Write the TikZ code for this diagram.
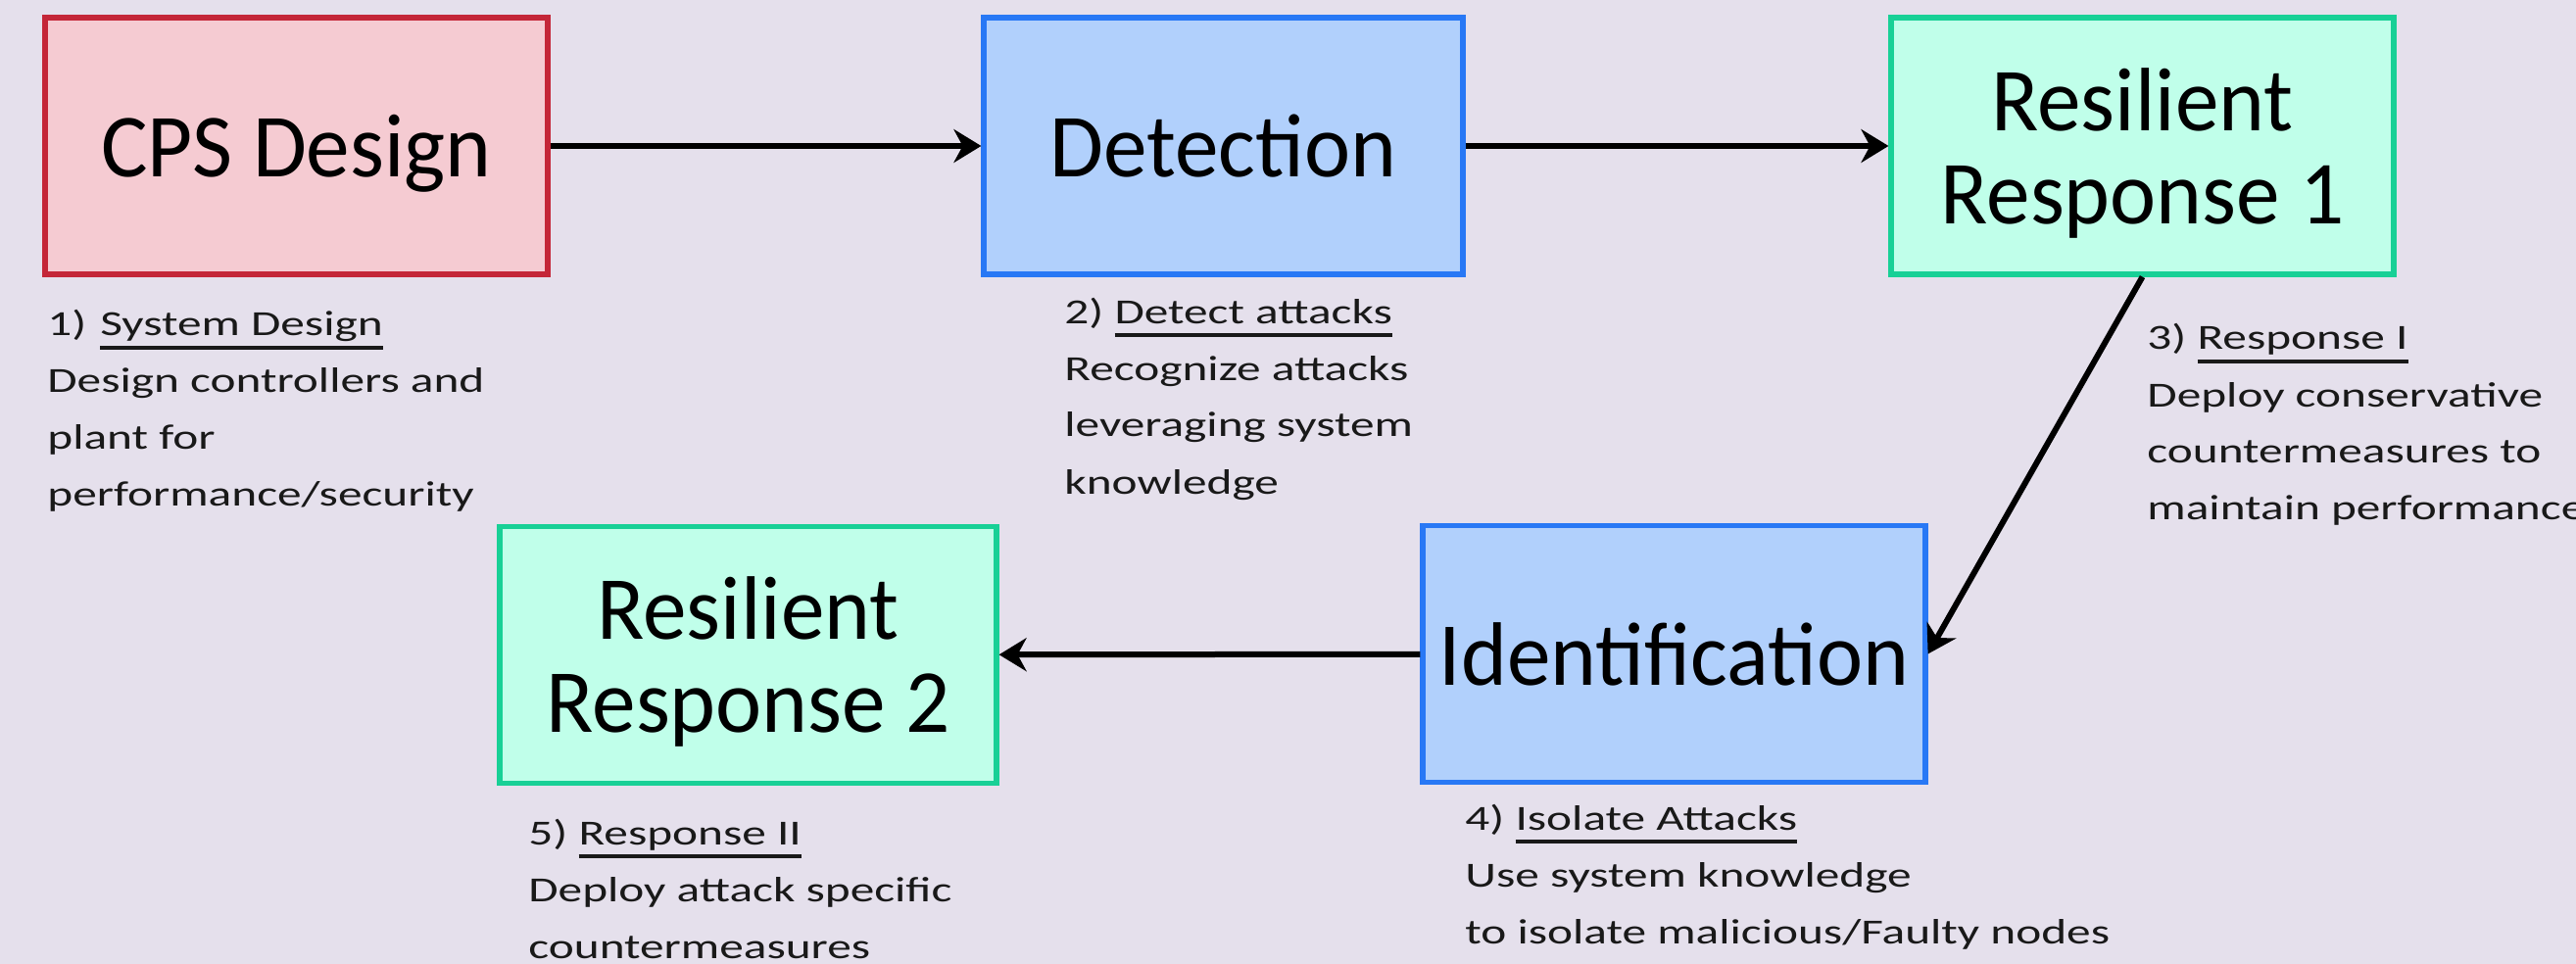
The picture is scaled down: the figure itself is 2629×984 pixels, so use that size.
\documentclass[tikz,border=0pt]{standalone}
\usepackage{fontspec}
\setmainfont{Carlito}
\newfontfamily\boxfont[FakeStretch=0.97]{Carlito}
\newfontfamily\notefont[FakeStretch=1.37]{Carlito}
\usetikzlibrary{arrows.meta}

\definecolor{canvas}{RGB}{229,224,236}
\definecolor{designfill}{RGB}{245,203,210}
\definecolor{designline}{RGB}{196,38,56}
\definecolor{sensefill}{RGB}{177,208,252}
\definecolor{senseline}{RGB}{40,120,245}
\definecolor{actfill}{RGB}{192,255,234}
\definecolor{actline}{RGB}{24,208,150}

% underlined heading with a heavier rule than \underline gives
\newcommand\ulword[1]{\setbox0\hbox{#1}\rlap{\rule[-6.75pt]{\wd0}{2pt}}\box0}
% stacked note lines, baseline on the first line
\newcommand\notelines[1]{\begin{tabular}[t]{@{}l@{}}#1\end{tabular}}

\begin{document}
\begin{tikzpicture}[x=0.5pt,y=-0.5pt,
  stagebox/.style={draw, line width=2.6pt, minimum width=256.5pt,
    minimum height=131pt, inner sep=0pt, align=center, text depth=0pt,
    font=\boxfont\fontsize{46pt}{47.5pt}\selectfont},
  designbox/.style={stagebox, fill=designfill, draw=designline},
  sensebox/.style={stagebox, fill=sensefill, draw=senseline},
  actbox/.style={stagebox, fill=actfill, draw=actline},
  conn/.style={line width=3pt, -{Stealth[length=14pt,width=17pt]}},
  note/.style={inner sep=0pt, anchor=base west, text=black!90,
    font=\notefont\fontsize{18pt}{29pt}\selectfont}]

\fill[canvas] (0,0) rectangle (2629,984);
\useasboundingbox (0,0) rectangle (2629,984);

% stages
\node[designbox] (cps) at (302.5,149) {CPS Design};
\node[sensebox, minimum width=244.5pt] (det) at (1248.5,149) {Detection};
\node[actbox] (rr1) at (2186.5,149) {Resilient\\Response 1};
\node[sensebox] (ident) at (1708.5,667.5) {Identification};
\node[actbox, minimum width=253.5pt] (rr2) at (763.5,668.5) {Resilient\\Response 2};

% flow
\draw[conn] (cps) -- (det);
\draw[conn] (det) -- (rr1);
\draw[conn] (rr1.south) -- (ident.east);
\draw[conn] (ident) -- (rr2);

% step descriptions
\node[note] (n1) at (48,343) {\notelines{1)\hspace{7pt}\ulword{System Design}\\Design controllers and\\plant for\\performance/security}};
\node[note] (n2) at (1086,330) {\notelines{2) \ulword{Detect attacks}\\Recognize attacks\\leveraging system\\knowledge}};
\node[note] (n3) at (2191,357) {\notelines{3) \ulword{Response I}\\Deploy conservative\\countermeasures to\\maintain performance}};
\node[note] (n4) at (1495,847) {\notelines{4) \ulword{Isolate Attacks}\\Use system knowledge\\to isolate malicious/Faulty nodes}};
\node[note] (n5) at (539,862) {\notelines{5) \ulword{Response II}\\Deploy attack specific\\countermeasures}};
\end{tikzpicture}
\end{document}
